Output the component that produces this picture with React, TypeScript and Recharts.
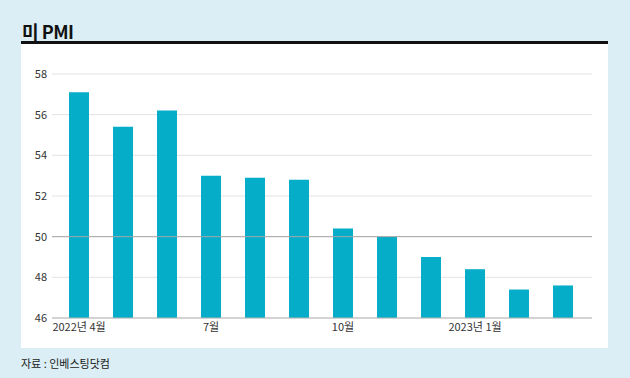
import { BarChart, Bar, XAxis, YAxis, CartesianGrid, ReferenceLine } from 'recharts'

const months = [
  '2022년 4월', '5월', '6월', '7월', '8월', '9월',
  '10월', '11월', '12월', '2023년 1월', '2월', '3월',
]
const pmi = [57.1, 55.4, 56.2, 53.0, 52.9, 52.8, 50.4, 50.0, 49.0, 48.4, 47.4, 47.6]
const yTicks = [46, 48, 50, 52, 54, 56, 58]

const data = months.map((m, i) => ({ month: m, pmi: pmi[i] }))

const font = '"Liberation Sans Narrow", "Noto Sans CJK KR", sans-serif'

export default function App() {
  return (
    <div
      style={{
        position: 'absolute',
        left: 0,
        top: 0,
        width: 630,
        height: 378,
        background: '#dbeef5',
        fontFamily: font,
        overflow: 'hidden',
      }}
    >
      <div
        style={{
          position: 'absolute',
          left: 22,
          top: 18,
          fontSize: 18,
          fontWeight: 'bold',
          color: '#111',
          letterSpacing: -0.5,
        }}
      >
        미 PMI
      </div>
      <div style={{ position: 'absolute', left: 21, top: 41, width: 587, height: 3, background: '#111' }} />
      <div style={{ position: 'absolute', left: 21, top: 44, width: 587, height: 304, background: '#fff' }} />
      <div style={{ position: 'absolute', left: 21, top: 355, fontSize: 11, color: '#222' }}>
        자료 : 인베스팅닷컴
      </div>
      <div style={{ position: 'absolute', left: 0, top: 0 }}>
        <BarChart
          width={630}
          height={378}
          data={data}
          margin={{ top: 74, right: 38, bottom: 30, left: 0 }}
        >
          <CartesianGrid vertical={false} stroke="#e2e2e2" />
          <XAxis
            dataKey="month"
            interval={2}
            height={30}
            padding={{ left: 5, right: 7 }}
            tickLine={false}
            tickSize={4}
            tickMargin={1}
            axisLine={{ stroke: '#b5b5b5' }}
            tick={{ fontSize: 11, fill: '#333', fontFamily: font }}
          />
          <YAxis
            domain={[46, 58]}
            ticks={yTicks}
            width={52}
            axisLine={false}
            tickLine={false}
            tickSize={3}
            tickMargin={2}
            tick={{ fontSize: 11, fill: '#333', fontFamily: font }}
          />
          <ReferenceLine y={50} stroke="#a8a8a8" />
          <Bar dataKey="pmi" fill="#06adc8" barSize={20} isAnimationActive={false} />
        </BarChart>
      </div>
    </div>
  )
}
